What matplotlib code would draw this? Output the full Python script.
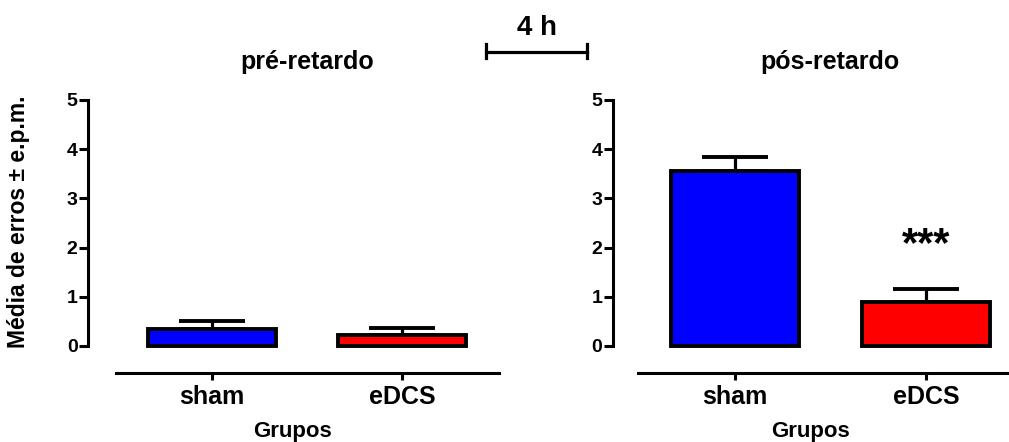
import matplotlib.pyplot as plt

plt.rcParams['font.family'] = ['Liberation Sans', 'DejaVu Sans']
plt.rcParams['font.weight'] = 'bold'

groups = ['sham', 'eDCS']
colors = ['#0000ff', '#ff0000']

pre_means = [0.34, 0.22]
pre_sem = [0.16, 0.15]
post_means = [3.56, 0.90]
post_sem = [0.28, 0.25]

fig = plt.figure(figsize=(10.09, 4.42), dpi=100)

ax1 = fig.add_axes([88 / 1009, 96 / 442, 410 / 1009, 246 / 442])
ax2 = fig.add_axes([612.7 / 1009, 96 / 442, 396.3 / 1009, 246 / 442])


def draw_panel(ax, means, sem, title, xlim):
    x = range(len(groups))
    ax.bar(x, means, width=0.67, color=colors, edgecolor='black',
           linewidth=2.8, zorder=3, clip_on=False)
    ax.errorbar(x, means, yerr=[[0] * len(sem), sem], fmt='none',
                ecolor='black', elinewidth=2.3, capsize=23.5,
                capthick=2.8, zorder=2, clip_on=False)
    ax.set_xlim(*xlim)
    ax.set_ylim(0, 5)
    ax.set_yticks([0, 1, 2, 3, 4, 5])
    ax.set_xticks(list(x))
    ax.set_xticklabels(groups)
    ax.spines['top'].set_visible(False)
    ax.spines['right'].set_visible(False)
    ax.spines['left'].set_linewidth(2.2)
    ax.spines['bottom'].set_linewidth(2.2)
    ax.spines['bottom'].set_position(('outward', 19.4))
    ax.spines['bottom'].set_bounds(-0.505, 1.51)
    ax.tick_params(axis='y', direction='out', length=6.5, width=2.2, pad=1,
                   labelsize=14)
    ax.tick_params(axis='x', direction='out', length=5, width=2.2, pad=4,
                   labelsize=18)
    ax.set_xlabel('Grupos', fontsize=16, fontweight='bold', labelpad=8)
    ax.text(0.5, 5.77, title, ha='center', va='center', fontsize=18,
            fontweight='bold')
    ax.patch.set_visible(False)


draw_panel(ax1, pre_means, pre_sem, 'pré-retardo', (-0.652, 1.506))
draw_panel(ax2, post_means, post_sem, 'pós-retardo', (-0.64, 1.435))

ax2.text(1, 2.05, '***', ha='center', va='center', fontsize=30,
         fontweight='bold')

fig.text(19 / 1009, 1 - 222 / 442, 'Média de erros ± e.p.m.', rotation=90,
         ha='center', va='center', fontsize=16.5, fontweight='bold')

fig.text(537 / 1009, 1 - 28 / 442, '4 h', ha='center', va='center',
         fontsize=20, fontweight='bold')
fig.add_artist(plt.Line2D([486 / 1009, 587 / 1009], [1 - 52 / 442, 1 - 52 / 442],
                          color='black', linewidth=2.3))
for xe in (486, 587):
    fig.add_artist(plt.Line2D([xe / 1009, xe / 1009], [1 - 44 / 442, 1 - 58 / 442],
                              color='black', linewidth=2.3))

fig.savefig('out.png', dpi=100)
